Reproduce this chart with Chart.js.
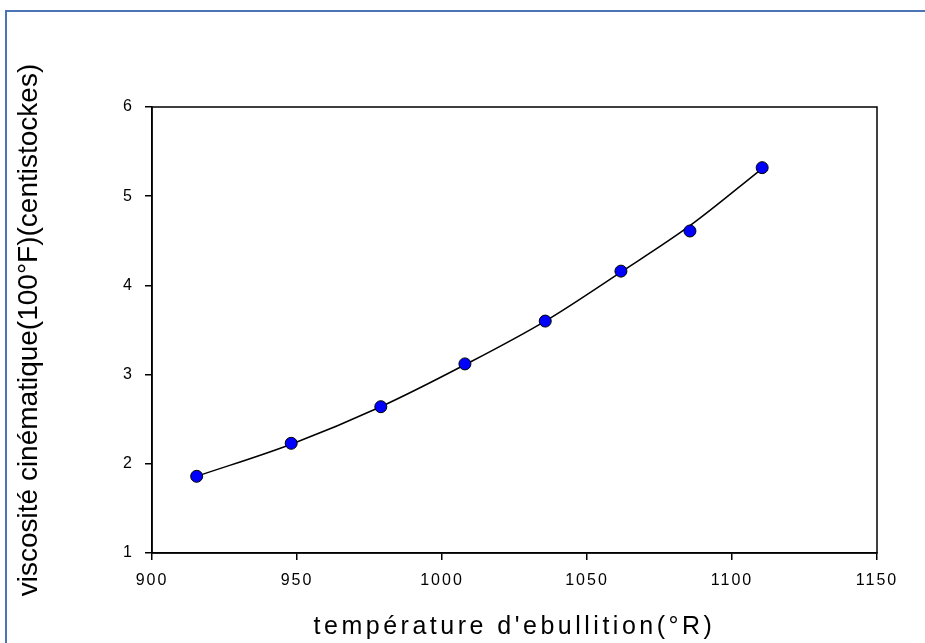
<!DOCTYPE html>
<html>
<head>
<meta charset="utf-8">
<script src="https://cdn.jsdelivr.net/npm/chart.js@4/dist/chart.umd.min.js"></script>
<style>
  body { margin: 0; background: #fff; overflow: hidden; }
  #wrap { position: relative; width: 925px; height: 643px; }
  #frame { position: absolute; left: 5px; top: 10px; width: 940px; height: 660px; border-left: 2px solid #4a74b4; border-top: 2px solid #4a74b4; pointer-events: none; }
</style>
</head>
<body>
<div id="wrap">
  <canvas id="myChart" width="925" height="643"></canvas>
  <div id="frame"></div>
</div>
<script>
/* global Chart */
// temperature d'ebullition (°R) and viscosity (cSt)
const tempR = [915.4, 948.0, 978.9, 1007.9, 1035.6, 1061.7, 1085.5, 1110.4];
const viscosity = [1.86, 2.23, 2.64, 3.12, 3.60, 4.16, 4.61, 5.32];
// the drawn curve at the same temperatures (it runs a little above the 7th point)
const curveViscosity = [1.86, 2.22, 2.64, 3.11, 3.60, 4.15, 4.67, 5.31];
const xTicks = [900, 950, 1000, 1050, 1100, 1150];
const yTicks = [1, 2, 3, 4, 5, 6];

document.addEventListener("DOMContentLoaded", () => {
  const points = tempR.map((x, i) => ({ x, y: viscosity[i] }));
  const curve = tempR.map((x, i) => ({ x, y: curveViscosity[i] }));
  const font = "Liberation Sans, Arial, sans-serif";

  // closed box round the plot area
  const plotBox = {
    id: "plotBox",
    afterDatasetsDraw(chart) {
      const { ctx, chartArea: a } = chart;
      ctx.save();
      ctx.strokeStyle = "#000";
      ctx.lineWidth = 1.5;
      ctx.strokeRect(a.left, a.top, a.right - a.left, a.bottom - a.top);
      ctx.restore();
    }
  };

  // spaced lettering on the x axis texts
  const spacedX = {
    id: "spacedX",
    afterUpdate(chart) {
      const sc = chart.scales.x;
      if (sc._spaced) return;
      sc._spaced = true;
      ["drawLabels", "drawTitle"].forEach(name => {
        const orig = sc[name].bind(sc);
        sc[name] = (...args) => {
          chart.ctx.save();
          chart.ctx.letterSpacing = name === "drawTitle" ? "3.5px" : "2px";
          orig(...args);
          chart.ctx.restore();
        };
      });
    }
  };

  const canvas = document.getElementById("myChart");
  new Chart(canvas.getContext("2d"), {
    type: "scatter",
    data: {
      datasets: [
        {
          label: "points",
          data: points,
          backgroundColor: "#0000ff",
          borderColor: "#000",
          borderWidth: 1,
          pointRadius: 6,
          pointHoverRadius: 6,
          order: 0
        },
        {
          label: "courbe",
          data: curve,
          showLine: true,
          borderColor: "#000",
          borderWidth: 1.5,
          pointRadius: 0,
          cubicInterpolationMode: "monotone",
          fill: false,
          order: 1
        }
      ]
    },
    options: {
      responsive: false,
      animation: false,
      events: [],
      layout: { padding: { top: 107, right: 48, left: 0, bottom: 0 } },
      plugins: {
        legend: { display: false },
        tooltip: { enabled: false }
      },
      scales: {
        x: {
          type: "linear",
          min: 900,
          max: 1150,
          afterBuildTicks: s => { s.ticks = xTicks.map(v => ({ value: v })); },
          afterFit: s => { s.height = 90; },
          grid: { display: true, drawOnChartArea: false, drawTicks: true, tickLength: 7, color: "#000", lineWidth: 1.5 },
          border: { display: true, color: "#000", width: 1.5 },
          ticks: { color: "#000", padding: 11, maxRotation: 0, callback: v => String(v), font: { family: font, size: 16 } },
          title: {
            display: true,
            text: "température d'ebullition(°R)",
            color: "#000",
            padding: { top: 0, bottom: 3 },
            font: { family: font, size: 25, lineHeight: 1 }
          }
        },
        y: {
          type: "linear",
          min: 1,
          max: 6,
          afterBuildTicks: s => { s.ticks = yTicks.map(v => ({ value: v })); },
          afterFit: s => { s.width = 152; },
          grid: { display: true, drawOnChartArea: false, drawTicks: true, tickLength: 7, color: "#000", lineWidth: 1.5 },
          border: { display: true, color: "#000", width: 1.5 },
          ticks: { color: "#000", padding: 13, callback: v => String(v), font: { family: font, size: 16 } },
          title: {
            display: true,
            text: "viscosité cinématique(100°F)(centistockes)",
            color: "#000",
            padding: { top: 15, bottom: 0 },
            font: { family: font, size: 28, lineHeight: 1 }
          }
        }
      }
    },
    plugins: [plotBox, spacedX]
  });
});
</script>
</body>
</html>
